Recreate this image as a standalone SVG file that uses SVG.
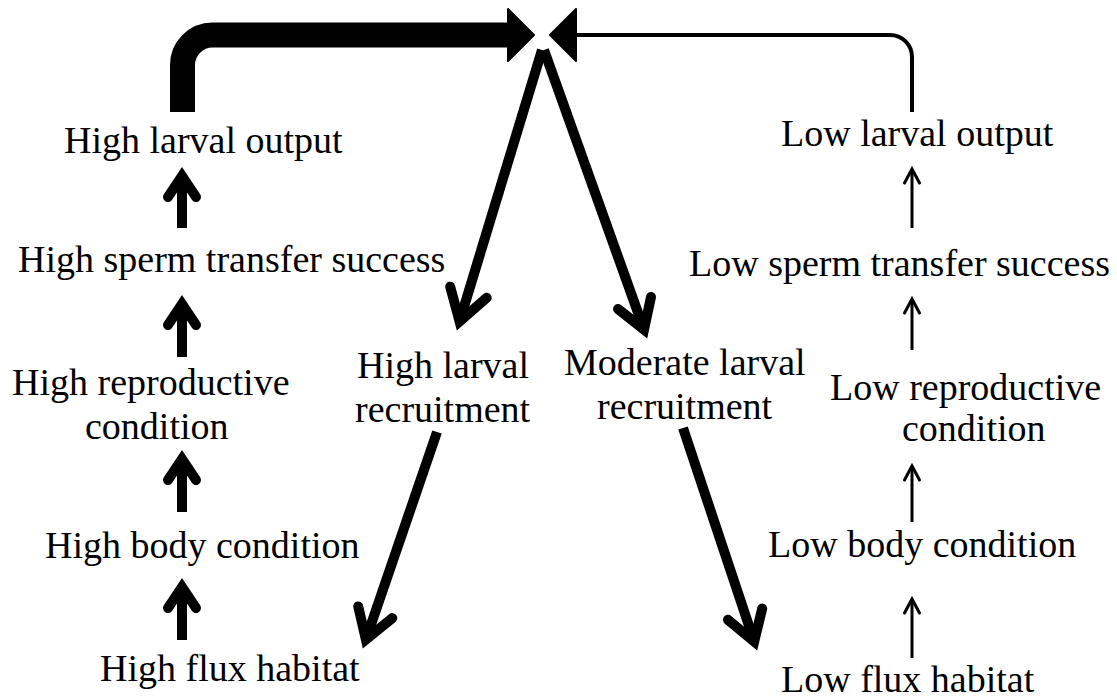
<svg xmlns="http://www.w3.org/2000/svg" width="1117" height="700" viewBox="0 0 1117 700">
<style>
text{font-family:"Liberation Serif","Times New Roman",serif;font-size:38px;fill:#000}
.thick{fill:none;stroke:#000;stroke-width:10}
.head{fill:none;stroke:#000;stroke-width:10;stroke-linejoin:miter;stroke-linecap:round;stroke-miterlimit:10}
.thin{fill:none;stroke:#000;stroke-width:3}
.thinhead{fill:none;stroke:#000;stroke-width:3;stroke-linejoin:miter;stroke-linecap:round;stroke-miterlimit:10}
.tri{fill:#000;stroke:#000;stroke-width:2;stroke-linejoin:round}
</style>
<rect width="1117" height="700" fill="#fff"/>
<g id="connectors">
  <path d="M182.5,112 V65 A30,30 0 0 1 212.5,35 H509" fill="none" stroke="#000" stroke-width="25"/>
  <polygon class="tri" points="508,9 534,35 508,61"/>
  <path d="M577,35 H890 A22,22 0 0 1 912,57 V112" fill="none" stroke="#000" stroke-width="4"/>
  <polygon class="tri" points="576,9 550,35 576,61"/>
  <path class="thick" d="M542,50 L459.6,321.4"/>
  <path class="head" d="M450.2,286.7 L459.6,321.4 L486.7,297.7"/>
  <path class="thick" d="M544,50 L644,329.5"/>
  <path class="head" d="M651,297 L644,329.5 L618,309"/>
  <path class="thick" d="M437,432 L365.9,639.5"/>
  <path class="head" d="M358.2,606.4 L365.9,639.5 L392.3,618.1"/>
  <path class="thick" d="M683,428 L754.2,641.5"/>
  <path class="head" d="M762.2,608.5 L754.2,641.5 L728,619.8"/>
  <path class="thick" d="M182,228 V176"/>
  <path class="head" d="M168,197 L182,176 L196,197"/>
  <path class="thick" d="M182,357 V304"/>
  <path class="head" d="M168,325 L182,304 L196,325"/>
  <path class="thick" d="M182,512 V459"/>
  <path class="head" d="M168,480 L182,459 L196,480"/>
  <path class="thick" d="M182,640 V587"/>
  <path class="head" d="M168,608 L182,587 L196,608"/>
  <path class="thin" d="M912,228 V169"/>
  <path class="thinhead" d="M904.5,183 L912,169 L919.5,183"/>
  <path class="thin" d="M912,350 V299"/>
  <path class="thinhead" d="M904.5,313 L912,299 L919.5,313"/>
  <path class="thin" d="M912,522 V466"/>
  <path class="thinhead" d="M904.5,480 L912,466 L919.5,480"/>
  <path class="thin" d="M912,658 V599"/>
  <path class="thinhead" d="M904.5,613 L912,599 L919.5,613"/>
</g>
<g id="n-high-output"><text x="64" y="153">High larval output</text></g>
<g id="n-high-sperm"><text x="18" y="272">High sperm transfer success</text></g>
<g id="n-high-repro"><text x="12" y="395">High reproductive</text><text x="85" y="439">condition</text></g>
<g id="n-high-body"><text x="45" y="558">High body condition</text></g>
<g id="n-high-flux"><text x="100" y="681">High flux habitat</text></g>
<g id="n-high-recruit"><text x="357" y="378">High larval</text><text x="355" y="422">recruitment</text></g>
<g id="n-mod-recruit"><text x="564" y="375">Moderate larval</text><text x="597" y="419">recruitment</text></g>
<g id="n-low-output"><text x="781" y="146">Low larval output</text></g>
<g id="n-low-sperm"><text x="689" y="276">Low sperm transfer success</text></g>
<g id="n-low-repro"><text x="830" y="400">Low reproductive</text><text x="902" y="441">condition</text></g>
<g id="n-low-body"><text x="768" y="557">Low body condition</text></g>
<g id="n-low-flux"><text x="781" y="692">Low flux habitat</text></g>
</svg>
